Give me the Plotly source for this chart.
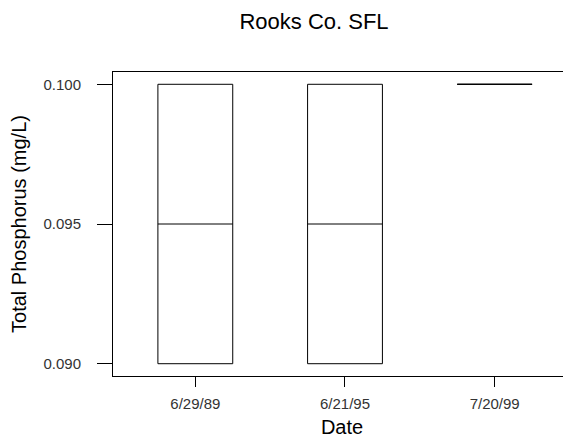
import plotly.graph_objects as go

dates = ["6/29/89", "6/21/95", "7/20/99"]
q1 = [0.090, 0.090, 0.100]
median = [0.095, 0.095, 0.100]
q3 = [0.100, 0.100, 0.100]
y_ticks = [0.090, 0.095, 0.100]

# the page body has an 8px default margin, so the figure is drawn 8px smaller
W, H = 563, 434

fig = go.Figure()
fig.add_trace(go.Box(
    x=dates, q1=q1, median=median, q3=q3,
    lowerfence=q1, upperfence=q3,
    width=0.5, whiskerwidth=0,
    line=dict(color="black", width=1),
    fillcolor="rgba(255,255,255,0)",
    boxpoints=False, hoverinfo="skip", showlegend=False,
))

fig.update_layout(
    width=W, height=H,
    margin=dict(l=105, r=0, t=64, b=66, autoexpand=False),
    paper_bgcolor="white", plot_bgcolor="white",
    font=dict(family="Liberation Sans, Arial, sans-serif", color="black"),
    title=dict(text="Rooks Co. SFL", x=306/W, xanchor="center", xref="container",
               y=1 - 13/H, yanchor="middle", font=dict(size=22, color="black")),
    xaxis=dict(
        type="category", range=[-0.55, 2.51], automargin=False,
        showline=True, linecolor="black", linewidth=1, mirror=True,
        ticks="outside", ticklen=10, tickcolor="black",
        tickfont=dict(size=15, color="#333333"), ticklabelstandoff=4,
        showgrid=False, zeroline=False,
        title=dict(text="Date", font=dict(size=20, color="black"), standoff=8),
    ),
    yaxis=dict(
        range=[0.08956, 0.10044], automargin=False,
        tickvals=y_ticks, tickformat=".3f",
        showline=True, linecolor="black", linewidth=1,
        ticks="outside", ticklen=15, tickcolor="black",
        tickfont=dict(size=15, color="#333333"), ticklabelstandoff=13,
        showgrid=False, zeroline=False,
        title=dict(text="Total Phosphorus (mg/L)", font=dict(size=20, color="black"), standoff=12),
    ),
)

fig.write_html("out.html")
